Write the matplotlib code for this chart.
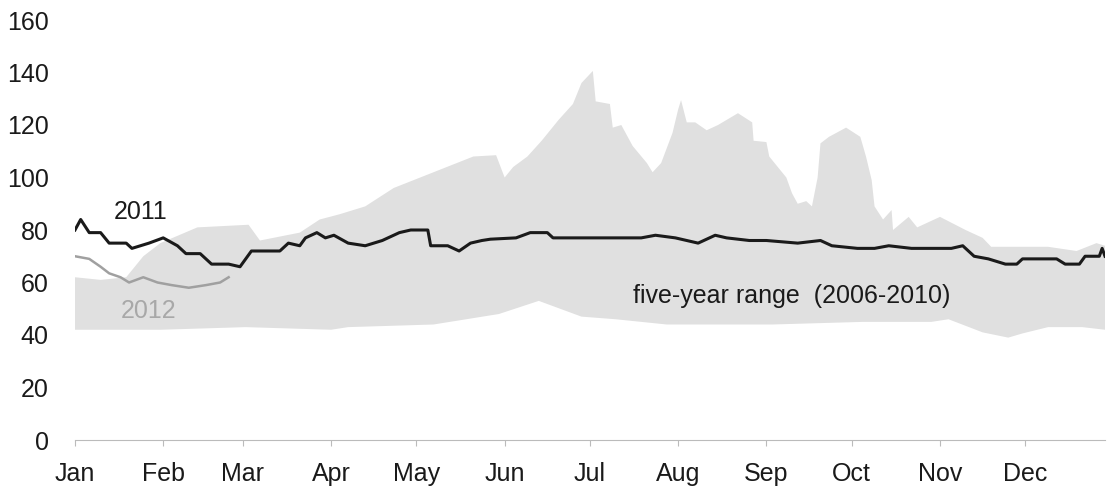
import matplotlib
matplotlib.use("Agg")
import matplotlib.pyplot as plt
import numpy as np

plt.rcParams['font.family'] = ['Liberation Sans', 'DejaVu Sans']

# ---- data (x = day of year, y = value) ----
upper_days = [0, 9, 18, 24, 30, 43, 61, 65, 79, 86, 93, 102, 112, 126, 140, 148, 151, 154, 159,
              164, 170, 175, 178, 182, 183, 188, 189, 192, 196, 201, 203, 206, 210, 212, 213, 215,
              218, 222, 226, 233, 238, 238.5, 243, 244, 247, 250, 252, 254, 257, 259, 261, 262,
              265, 271, 276, 278, 280, 281, 284, 287, 287.5, 293, 296, 304, 313, 319, 322, 333,
              342, 352, 359, 362]
upper_vals = [62, 61, 62, 70, 75, 81, 82, 76, 79, 84, 86, 89, 96, 102, 108, 108.5, 100, 104, 108,
              114, 122, 128, 136, 140.6, 129, 128, 119, 120, 112, 105.5, 102, 105.5, 117, 126, 129.5, 121,
              121, 118, 120, 124.5, 121, 114, 113.5, 108, 104, 100, 94, 90, 91, 89, 100, 113,
              115.5, 119, 115.5, 108, 99, 89, 84, 87.6, 80, 85, 81, 85, 80, 77, 73.6, 73.6,
              73.6, 72, 75, 74]

lower_days = [0, 30, 60, 90, 96, 126, 149, 163, 178, 190, 208, 237, 245, 277, 301, 307, 319, 328,
              333, 342, 354, 362]
lower_vals = [42, 42, 43, 42, 43, 44, 48, 53, 47, 46, 44, 44, 44, 45, 45, 46, 41, 39,
              40.6, 43, 43, 42]

y2011_days = [0, 2, 5, 9, 12, 18, 20, 26, 31, 36, 39, 44, 48, 54, 58, 62, 67, 72, 75, 79, 81, 85,
              88, 91, 96, 102, 108, 114, 118, 124, 125, 131, 135, 139, 143, 146, 155, 160, 166, 168,
              178, 188, 199, 204, 211, 219, 225, 229, 237, 243, 254, 262, 266, 275, 281, 286, 294,
              308, 312, 316, 321, 327, 331, 333, 345, 348, 353, 355, 360, 361, 362]
y2011_vals = [80, 84, 79, 79, 75, 75, 73, 75, 77, 74, 71, 71, 67, 67, 66, 72, 72, 72, 75, 74, 77, 79,
              77, 78, 75, 74, 76, 79, 80, 80, 74, 74, 72, 75, 76, 76.5, 77, 79, 79, 77,
              77, 77, 77, 78, 77, 75, 78, 77, 76, 76, 75, 76, 74, 73, 73, 74, 73,
              73, 74, 70, 69, 67, 67, 69, 69, 67, 67, 70, 70, 73, 70]

y2012_days = [0, 5, 9, 12, 16, 19, 24, 29, 34, 40, 46, 51, 54]
y2012_vals = [70, 69, 66, 63.5, 62, 60, 62, 60, 59, 58, 59, 60, 62]

month_days = [0, 31, 59, 90, 120, 151, 181, 212, 243, 273, 304, 334]
month_labels = ['Jan', 'Feb', 'Mar', 'Apr', 'May', 'Jun', 'Jul', 'Aug', 'Sep', 'Oct', 'Nov', 'Dec']
y_ticks = [0, 20, 40, 60, 80, 100, 120, 140, 160]

# ---- figure ----
fig = plt.figure(figsize=(11.07, 4.88), dpi=100)
ax = fig.add_axes([75 / 1107, 48 / 488, 1030 / 1107, 420 / 488])

xs = np.union1d(upper_days, lower_days)
up = np.interp(xs, upper_days, upper_vals)
lo = np.interp(xs, lower_days, lower_vals)
ax.fill_between(xs, lo, up, facecolor='#e0e0e0', edgecolor='none', zorder=1)

ax.plot(y2012_days, y2012_vals, color='#a0a0a0', lw=1.8, zorder=3)
ax.plot(y2011_days, y2011_vals, color='#1a1a1a', lw=2.2, zorder=4)

ax.text(23, 87, '2011', fontsize=18, color='#1a1a1a', ha='center', va='center')
ax.text(26, 49, '2012', fontsize=18, color='#a8a8a8', ha='center', va='center')
ax.text(196, 55, 'five-year range  (2006-2010)', fontsize=18, color='#1a1a1a', ha='left', va='center')

ax.set_xlim(0, 362)
ax.set_ylim(0, 160)
ax.set_yticks(y_ticks)
ax.set_xticks(month_days)
ax.set_xticklabels(month_labels)
for s in ['top', 'right', 'left']:
    ax.spines[s].set_visible(False)
ax.spines['bottom'].set_color('#bbbbbb')
ax.spines['bottom'].set_linewidth(0.8)
ax.tick_params(axis='y', length=0, pad=19, labelsize=18, labelcolor='#1a1a1a')
ax.tick_params(axis='x', length=4, color='#bbbbbb', pad=12, labelsize=18, labelcolor='#1a1a1a')

fig.savefig('out.png', dpi=100)
